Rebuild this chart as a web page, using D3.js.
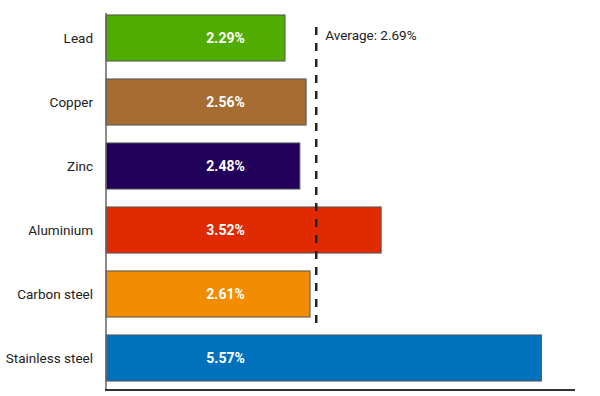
<!DOCTYPE html>
<html>
<head>
<meta charset="utf-8">
<script src="https://cdn.jsdelivr.net/npm/d3@7"></script>
<style>
  body { margin: 0; background: #fff; }
  text { font-family: Roboto, "DejaVu Sans", sans-serif; }
</style>
</head>
<body>
<svg id="chart"></svg>
<script>
const width = 600;
const height = 396;

const metals = ['Lead', 'Copper', 'Zinc', 'Aluminium', 'Carbon steel', 'Stainless steel'];
const rates = [2.29, 2.56, 2.48, 3.52, 2.61, 5.57];
const colors = ['#50ad00', '#a66c31', '#22015a', '#e02a00', '#f28c00', '#0072bc'];
const average = 2.69;

const data = metals.map((m, i) => ({metal: m, rate: rates[i], color: colors[i]}));

const svg = d3.select('#chart')
            .attr('width', width)
            .attr('height', height);

const x = d3.scaleLinear().domain([0, 6]).range([106, 575]);
const y = d3.scaleBand().domain(metals).range([6, 390])
            .paddingInner(0.28).paddingOuter(0.14);

// bars
svg.selectAll('rect.bar').data(data)
    .enter()
    .append('rect')
    .attr('class', 'bar')
    .attr('x', x(0))
    .attr('y', d => y(d.metal))
    .attr('width', d => x(d.rate) - x(0))
    .attr('height', y.bandwidth())
    .style('fill', d => d.color)
    .style('stroke', '#555')
    .style('stroke-width', 1);

// value labels
svg.selectAll('text.value').data(data)
    .enter()
    .append('text')
    .attr('class', 'value')
    .attr('x', x(1.53))
    .attr('y', d => y(d.metal) + y.bandwidth() / 2)
    .attr('dy', '0.35em')
    .attr('text-anchor', 'middle')
    .style('fill', '#fff')
    .style('font-weight', 'bold')
    .style('font-size', '14px')
    .text(d => d.rate.toFixed(2) + '%');

// category labels
svg.selectAll('text.cat').data(data)
    .enter()
    .append('text')
    .attr('class', 'cat')
    .attr('x', 93)
    .attr('y', d => y(d.metal) + y.bandwidth() / 2)
    .attr('dy', '0.35em')
    .attr('text-anchor', 'end')
    .style('fill', '#222')
    .style('font-size', '13.5px')
    .text(d => d.metal);

// axes
svg.append('line')
    .attr('x1', x(0)).attr('x2', x(0))
    .attr('y1', 13).attr('y2', 390)
    .style('stroke', '#666')
    .style('stroke-width', 1.5);

svg.append('line')
    .attr('x1', x(0) - 1).attr('x2', x(6))
    .attr('y1', 390).attr('y2', 390)
    .style('stroke', '#333')
    .style('stroke-width', 2);

// average line
svg.append('line')
    .attr('x1', x(average)).attr('x2', x(average))
    .attr('y1', 27).attr('y2', 329)
    .style('stroke', '#222')
    .style('stroke-width', 2.5)
    .style('stroke-dasharray', '8,8');

svg.append('text')
    .attr('x', x(average) + 9)
    .attr('y', 40)
    .style('fill', '#222')
    .style('font-size', '13.5px')
    .text('Average: ' + average.toFixed(2) + '%');
</script>
</body>
</html>
